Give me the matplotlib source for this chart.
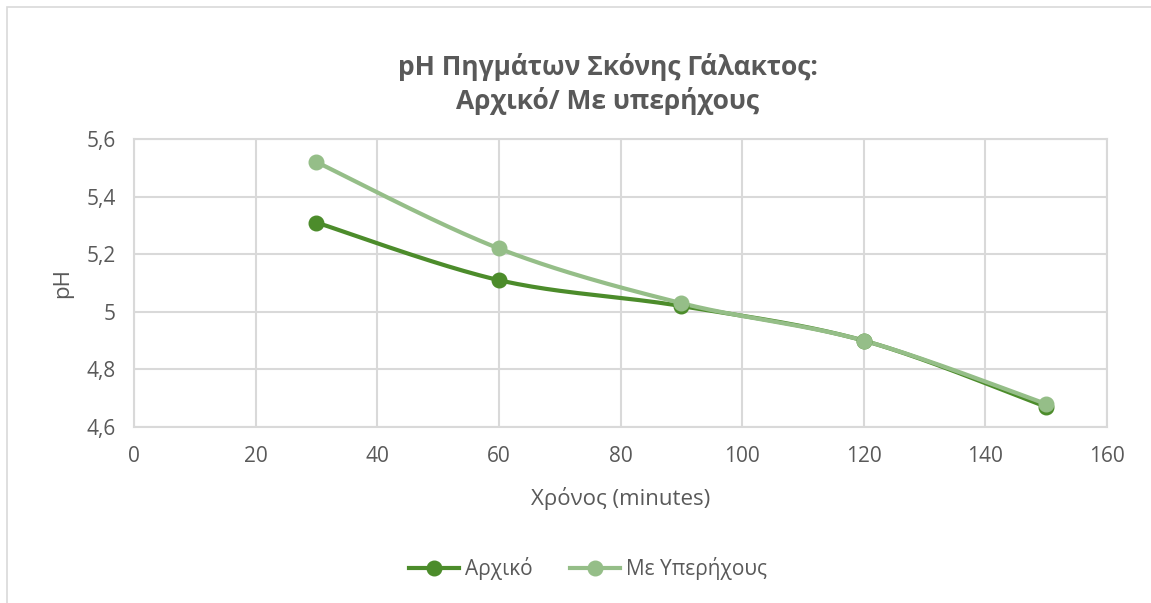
import numpy as np
import matplotlib
matplotlib.use("Agg")
import matplotlib.pyplot as plt
from matplotlib.patches import Rectangle
from matplotlib.ticker import FuncFormatter

# Sampling times (minutes) and measured pH
time_min = [30, 60, 90, 120, 150]
ph_initial = [5.31, 5.11, 5.02, 4.90, 4.67]
ph_ultrasound = [5.52, 5.22, 5.03, 4.90, 4.68]

series_names = ["Αρχικό", "Με Υπερήχους"]
title_text = "pH Πηγμάτων Σκόνης Γάλακτος:\nΑρχικό/ Με υπερήχους"
x_label = "Χρόνος (minutes)"
y_label = "pH"

x_ticks = [0, 20, 40, 60, 80, 100, 120, 140, 160]
y_ticks = [4.6, 4.8, 5.0, 5.2, 5.4, 5.6]

COL_DARK = "#4C8C2B"
COL_LIGHT = "#95BE88"
TXT = "#595959"
GRID = "#D9D9D9"

plt.rcParams["font.family"] = ["Open Sans", "DejaVu Sans"]

W, H = 1151, 603
fig = plt.figure(figsize=(W / 100, H / 100), dpi=100)

# chart outline
fig.add_artist(Rectangle((7 / W, -0.05), 1.2, 1 - 7 / H + 0.05,
                         transform=fig.transFigure, fill=False,
                         edgecolor="#D9D9D9", lw=1.2))

left, right, top, bottom = 134, 1107, 139, 427
ax = fig.add_axes([left / W, 1 - bottom / H, (right - left) / W, (bottom - top) / H])


def smooth(xs, ys, n=40):
    """Bezier curve through the points with Catmull-Rom style tangents (in screen units)."""
    xs = np.asarray(xs, float)
    ys = np.asarray(ys, float)
    sx = (xs - 0) / 160 * (right - left)
    sy = (ys - 4.6) / 1.0 * (bottom - top)
    P = np.column_stack([sx, sy])
    out = [P[0]]
    for i in range(len(P) - 1):
        p0 = P[i - 1] if i > 0 else P[i]
        p1 = P[i]
        p2 = P[i + 1]
        p3 = P[i + 2] if i + 2 < len(P) else P[i + 1]
        c1 = p1 + (p2 - p0) / 6
        c2 = p2 - (p3 - p1) / 6
        t = np.linspace(0, 1, n)[1:, None]
        seg = ((1 - t) ** 3) * p1 + 3 * ((1 - t) ** 2) * t * c1 + 3 * (1 - t) * t ** 2 * c2 + t ** 3 * p2
        out.extend(seg)
    out = np.array(out)
    return out[:, 0] / (right - left) * 160, out[:, 1] / (bottom - top) * 1.0 + 4.6


for ys, col, name in [(ph_initial, COL_DARK, series_names[0]),
                      (ph_ultrasound, COL_LIGHT, series_names[1])]:
    cx, cy = smooth(time_min, ys)
    ax.plot(cx, cy, color=col, lw=3, solid_capstyle="round", zorder=3)
    ax.plot(time_min, ys, "o", color=col, ms=10.5, zorder=4)
    ax.plot([], [], color=col, lw=3, marker="o", ms=10.5, label=name)

ax.set_xlim(0, 160)
ax.set_ylim(4.6, 5.6)
ax.set_xticks(x_ticks)
ax.set_yticks(y_ticks)

fmt = FuncFormatter(lambda v, p: ("%g" % round(v, 2)).replace(".", ","))
ax.yaxis.set_major_formatter(fmt)

ax.grid(True, color=GRID, lw=1.5)
ax.set_axisbelow(True)
for s in ax.spines.values():
    s.set_color(GRID)
    s.set_linewidth(1.5)
ax.tick_params(length=0, labelsize=15, colors=TXT)
ax.tick_params(axis="x", pad=14)
ax.tick_params(axis="y", pad=13)

ax.set_xlabel(x_label, fontsize=16, color=TXT, labelpad=14)
ax.set_ylabel(y_label, fontsize=16, color=TXT, labelpad=10)

fig.text(608 / W, 1 - 84 / H, title_text, ha="center", va="center",
         fontsize=19, fontweight="bold", color=TXT, linespacing=1.25)

leg = fig.legend(loc="center", bbox_to_anchor=(588 / W, 1 - 569 / H), ncol=2,
                 frameon=False, fontsize=15, handlelength=2.4, columnspacing=1.8,
                 handletextpad=0.3)
for t in leg.get_texts():
    t.set_color(TXT)

fig.savefig("out.png", dpi=100)
